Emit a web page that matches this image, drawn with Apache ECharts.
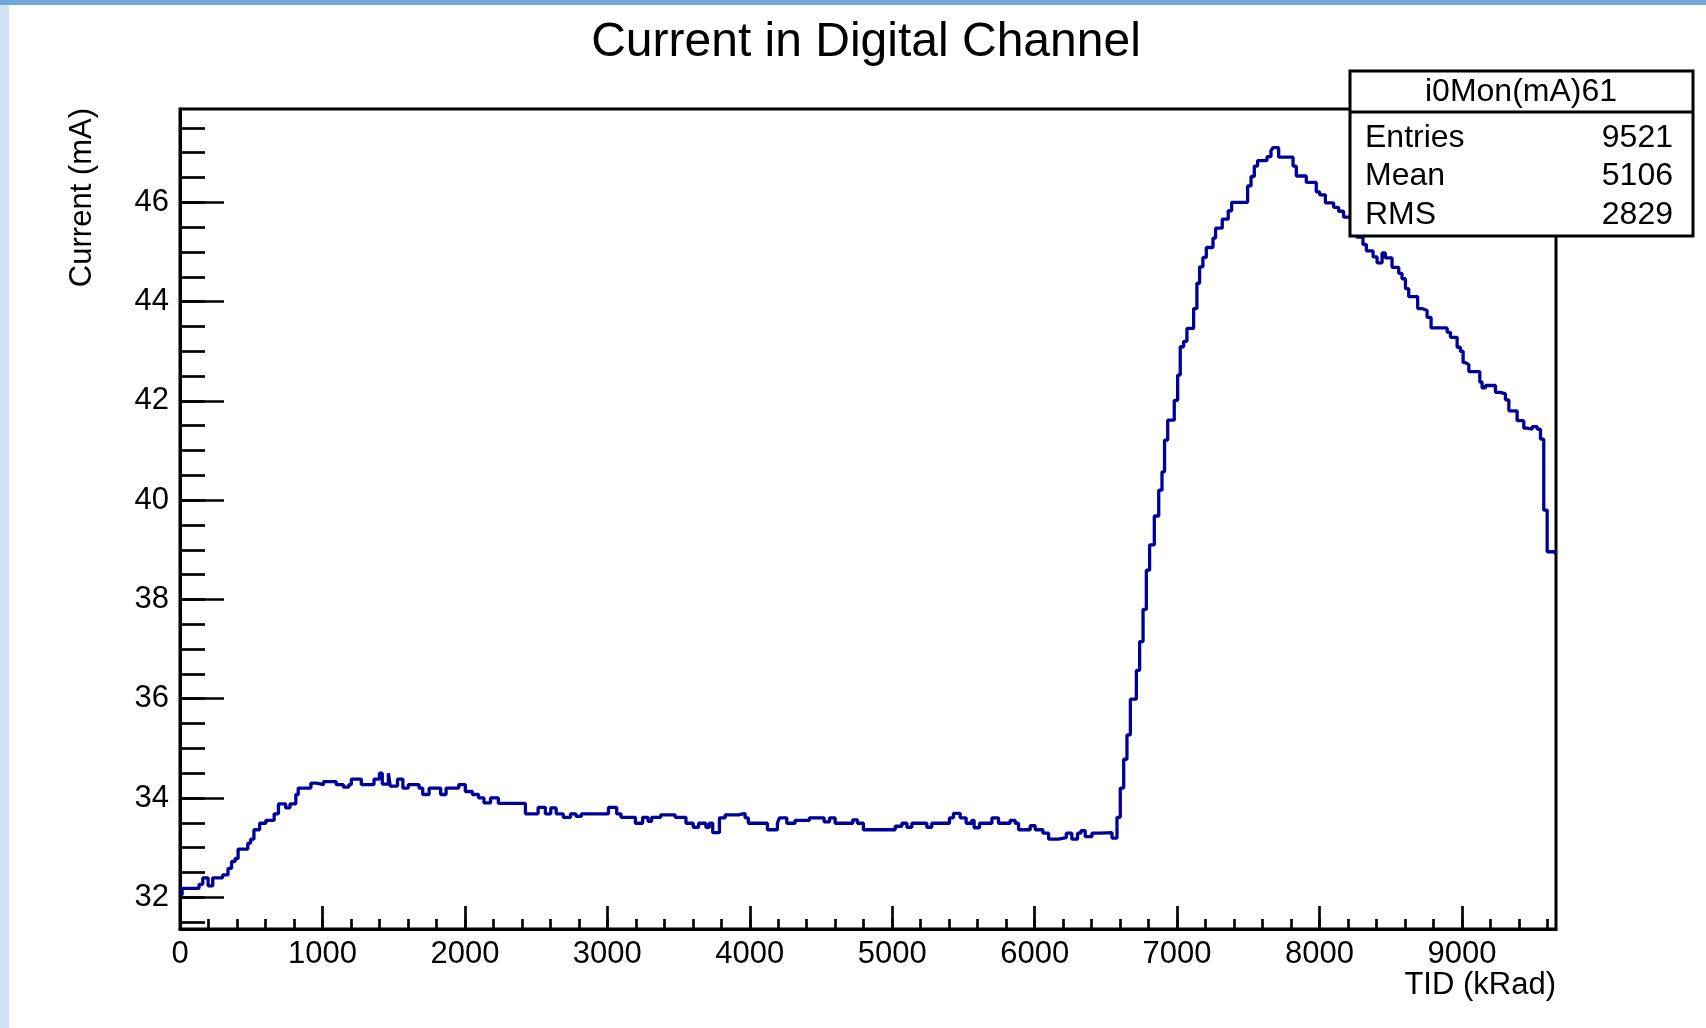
<!DOCTYPE html>
<html>
<head>
<meta charset="utf-8">
<script src="https://cdn.jsdelivr.net/npm/echarts@6/dist/echarts.min.js"></script>
<style>
html,body{margin:0;padding:0;background:#fff;}
#c{width:1706px;height:1028px;}
</style>
</head>
<body>
<div id="c"></div>
<script>
// Bin left edges (kRad) and current values (mA)
const tid = [0,15,134,160,197,230,299,337,362,387,408,476,496,519,559,603,661,691,742,772,813,830,919,957,1008,1096,1147,1185,1203,1273,1362,1400,1420,1463,1476,1527,1565,1603,1678,1704,1749,1830,1868,1957,2003,2053,2096,2134,2180,2235,2425,2514,2565,2603,2641,2691,2742,2780,2818,3008,3066,3096,3197,3248,3286,3311,3375,3476,3552,3603,3641,3692,3716,3740,3787,3827,3920,3967,3990,4124,4194,4208,4260,4318,4419,4522,4560,4599,4723,4756,4798,5021,5068,5103,5138,5243,5278,5402,5430,5477,5519,5559,5575,5613,5700,5746,5828,5863,5887,5969,6004,6058,6098,6168,6222,6261,6301,6325,6355,6402,6461,6543,6578,6601,6625,6648,6672,6714,6737,6761,6784,6807,6840,6871,6894,6912,6934,6980,7004,7022,7046,7069,7116,7139,7158,7181,7205,7252,7270,7317,7359,7383,7495,7519,7542,7565,7631,7659,7673,7713,7814,7837,7907,7977,8001,8041,8099,8134,8169,8218,8260,8305,8329,8376,8404,8439,8462,8509,8556,8579,8603,8626,8689,8720,8755,8783,8896,8919,8966,8989,9008,9024,9048,9125,9141,9165,9235,9270,9305,9329,9387,9434,9457,9493,9528,9551,9574,9598,9645,9660];
const current = [32.05,32.18,32.26,32.39,32.23,32.39,32.45,32.58,32.72,32.78,32.97,33.09,33.17,33.36,33.49,33.55,33.68,33.88,33.8,33.88,34.07,34.2,34.3,34.27,34.33,34.27,34.22,34.27,34.38,34.27,34.38,34.5,34.28,34.5,34.24,34.38,34.2,34.27,34.2,34.07,34.2,34.07,34.2,34.27,34.13,34.07,34.0,33.9,34.0,33.89,33.68,33.81,33.68,33.8,33.68,33.61,33.68,33.63,33.68,33.81,33.68,33.61,33.49,33.61,33.53,33.61,33.66,33.61,33.49,33.41,33.49,33.41,33.49,33.3,33.6,33.66,33.69,33.6,33.49,33.36,33.49,33.6,33.49,33.55,33.6,33.52,33.6,33.49,33.56,33.49,33.36,33.43,33.49,33.41,33.49,33.41,33.49,33.6,33.69,33.6,33.49,33.55,33.4,33.49,33.6,33.49,33.55,33.49,33.36,33.44,33.36,33.29,33.17,33.2,33.29,33.17,33.29,33.34,33.22,33.29,33.3,33.19,33.61,34.2,34.78,35.27,35.99,36.57,37.15,37.8,38.59,39.1,39.68,40.2,40.57,41.21,41.61,42.01,42.52,43.09,43.2,43.46,43.86,44.37,44.7,44.89,45.09,45.28,45.48,45.66,45.83,46.0,46.33,46.52,46.73,46.84,46.92,47.04,47.1,46.91,46.73,46.53,46.4,46.21,46.15,45.99,45.9,45.82,45.7,45.5,45.3,45.15,45.02,44.9,44.78,44.98,44.88,44.69,44.57,44.46,44.26,44.1,43.86,43.82,43.68,43.47,43.38,43.28,43.08,43.0,42.77,42.73,42.59,42.38,42.26,42.31,42.17,42.14,42.02,41.8,41.6,41.45,41.43,41.48,41.43,41.23,39.8,38.96,38.92,38.92];
const xTickLabels = [0,1000,2000,3000,4000,5000,6000,7000,8000,9000];
const yTickLabels = [32,34,36,38,40,42,44,46];
const statsLabels = ['Entries','Mean','RMS'];
const statsValues = ['9521','5106','2829'];
const titleText = 'Current in Digital Channel';
const statsTitle = 'i0Mon(mA)61';
const xName = 'TID (kRad)';
const yName = 'Current (mA)';

const X_MIN = 0, X_MAX = 9660, Y_MIN = 31.36, Y_MAX = 47.88;
const xMinor = []; for (let v = 0; v <= 9600; v += 200) xMinor.push(v);
const yMinor = []; for (let v = 31.5; v <= 47.5; v += 0.5) yMinor.push(v);

const FONT = '"Liberation Sans", Arial, Helvetica, sans-serif';
const data = tid.map((x, i) => [x, current[i]]);
const tickStyle = {color: '#000', width: 2.7};

const chart = echarts.init(document.getElementById('c'), null, {renderer: 'canvas'});
const statsRows = [];
statsLabels.forEach((lab, i) => {
  const y = [138, 176, 215][i];
  statsRows.push({type: 'text', z: 101, x: 1365, y: y, style: {text: lab, font: '32px ' + FONT, fill: '#000', align: 'left', verticalAlign: 'middle'}});
  statsRows.push({type: 'text', z: 101, x: 1673, y: y, style: {text: statsValues[i], font: '32px ' + FONT, fill: '#000', align: 'right', verticalAlign: 'middle'}});
});

chart.setOption({
  animation: false,
  backgroundColor: '#fff',
  grid: {left: 180, top: 109, width: 1376, height: 820, show: true, borderColor: '#000', borderWidth: 3, backgroundColor: 'transparent'},
  xAxis: [
    {type: 'value', min: X_MIN, max: X_MAX, position: 'bottom',
     axisLine: {show: true, lineStyle: {color: '#000', width: 3}},
     axisTick: {show: true, inside: true, length: 23, lineStyle: tickStyle, customValues: xTickLabels},
     axisLabel: {show: true, customValues: xTickLabels, formatter: v => String(v), fontSize: 31, fontFamily: FONT, color: '#000', margin: 10},
     splitLine: {show: false}},
    {type: 'value', min: X_MIN, max: X_MAX, position: 'bottom',
     axisLine: {show: false},
     axisTick: {show: true, inside: true, length: 10, lineStyle: tickStyle, customValues: xMinor},
     axisLabel: {show: false}, splitLine: {show: false}}
  ],
  yAxis: [
    {type: 'value', min: Y_MIN, max: Y_MAX, position: 'left',
     axisLine: {show: true, lineStyle: {color: '#000', width: 3}},
     axisTick: {show: true, inside: true, length: 44, lineStyle: tickStyle, customValues: yTickLabels},
     axisLabel: {show: true, customValues: yTickLabels, formatter: v => String(v), fontSize: 31, fontFamily: FONT, color: '#000', margin: 11},
     splitLine: {show: false}},
    {type: 'value', min: Y_MIN, max: Y_MAX, position: 'left',
     axisLine: {show: false},
     axisTick: {show: true, inside: true, length: 25, lineStyle: tickStyle, customValues: yMinor},
     axisLabel: {show: false}, splitLine: {show: false}}
  ],
  series: [{
    type: 'line', step: 'end', data: data, xAxisIndex: 0, yAxisIndex: 0,
    showSymbol: false, symbol: 'none', clip: true,
    lineStyle: {color: '#000099', width: 3.3}, z: 5
  }],
  graphic: [
    {type: 'rect', z: 0, shape: {x: 0, y: 0, width: 9, height: 1028}, style: {fill: '#cfe2f3'}},
    {type: 'rect', z: 0, shape: {x: 0, y: 0, width: 1706, height: 5}, style: {fill: '#6fa8dc'}},
    {type: 'text', z: 100, x: 866, y: 43, style: {text: titleText, font: '48px ' + FONT, fill: '#000', align: 'center', verticalAlign: 'middle'}},
    {type: 'text', z: 100, x: 1556, y: 985, style: {text: xName, font: '31px ' + FONT, fill: '#000', align: 'right', verticalAlign: 'middle'}},
    {type: 'text', z: 100, x: 82, y: 108, rotation: Math.PI / 2, style: {text: yName, font: '31px ' + FONT, fill: '#000', align: 'right', verticalAlign: 'middle'}},
    {type: 'rect', z: 100, shape: {x: 1350, y: 71, width: 343, height: 165}, style: {fill: '#fff', stroke: '#000', lineWidth: 3}},
    {type: 'line', z: 101, shape: {x1: 1350, y1: 112, x2: 1693, y2: 112}, style: {stroke: '#000', lineWidth: 3}},
    {type: 'text', z: 101, x: 1521, y: 92, style: {text: statsTitle, font: '32px ' + FONT, fill: '#000', align: 'center', verticalAlign: 'middle'}}
  ].concat(statsRows)
});
</script>
</body>
</html>
